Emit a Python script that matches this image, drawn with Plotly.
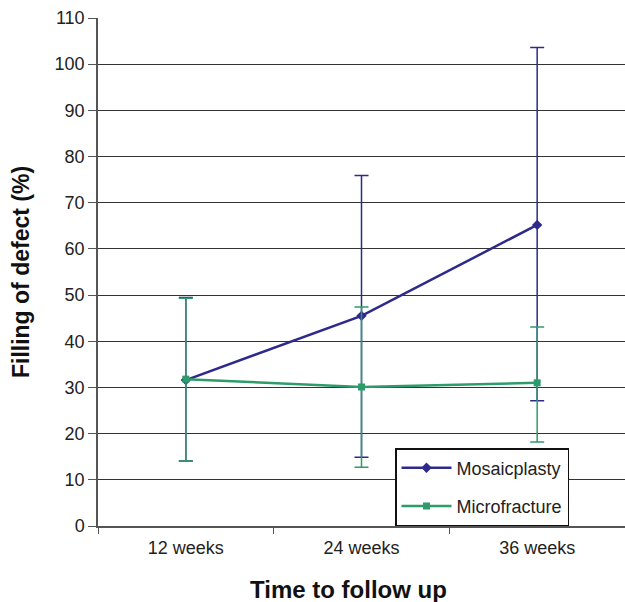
import plotly.graph_objects as go

categories = ["12 weeks", "24 weeks", "36 weeks"]
mosaic_mean = [31.6, 45.5, 65.2]
mosaic_upper = [49.5, 75.9, 103.6]
mosaic_lower = [14.1, 14.9, 27.1]
micro_mean = [31.8, 30.1, 31.0]
micro_upper = [49.3, 47.4, 43.1]
micro_lower = [14.1, 12.7, 18.2]

blue = "#2E2A8C"
green = "#2E9C6A"

fig = go.Figure()
fig.add_trace(go.Scatter(
    x=categories, y=mosaic_mean, name="Mosaicplasty", mode="lines+markers",
    line=dict(color=blue, width=2.5), marker=dict(symbol="diamond", size=8, color=blue),
    error_y=dict(type="data", symmetric=False,
                 array=[u - m for u, m in zip(mosaic_upper, mosaic_mean)],
                 arrayminus=[m - l for m, l in zip(mosaic_mean, mosaic_lower)],
                 color=blue, thickness=1.5, width=7),
    legendgroup="a"))
fig.add_trace(go.Scatter(
    x=categories, y=micro_mean, name="Microfracture", mode="lines+markers",
    line=dict(color=green, width=2.5), marker=dict(symbol="square", size=7, color=green),
    error_y=dict(type="data", symmetric=False,
                 array=[u - m for u, m in zip(micro_upper, micro_mean)],
                 arrayminus=[m - l for m, l in zip(micro_mean, micro_lower)],
                 color=green, thickness=1.5, width=7),
    legendgroup="b"))

fig.update_layout(
    width=625, height=602,
    margin=dict(l=98, r=0, t=18, b=76, autoexpand=False),
    paper_bgcolor="white", plot_bgcolor="white",
    font=dict(family="Liberation Sans, Arial, sans-serif", size=18, color="#222"),
    showlegend=True,
    legend=dict(x=0.5636, y=0.0, xanchor="left", yanchor="bottom",
                bgcolor="white", bordercolor="#111", borderwidth=1.5,
                font=dict(size=18), tracegroupgap=12, itemwidth=50),
    xaxis=dict(type="category", range=[-0.5, 2.5], showline=True, linecolor="#555",
               linewidth=1.5, ticks="outside", tickson="boundaries", ticklen=6,
               tickcolor="#555", showgrid=False, automargin=False, ticklabelstandoff=5),
    yaxis=dict(range=[0, 110], dtick=10, showline=True, linecolor="#555", linewidth=1.5,
               ticks="outside", ticklen=8, tickcolor="#555", automargin=True,
               showgrid=True, gridcolor="#333", gridwidth=1, zeroline=False,
               title=dict(text="<b>Filling of defect (%)</b>", font=dict(size=23, color="#111"), standoff=19)),
    annotations=[dict(text="<b>Time to follow up</b>", xref="paper", yref="paper",
                      x=(348 - 98) / 527, y=-(589 - 526) / 508, xanchor="center", yanchor="middle",
                      showarrow=False, font=dict(size=24, color="#111"))],
)

fig.write_html("out.html", config={"displayModeBar": False},
               post_script="document.body.style.margin='0px';document.body.style.overflow='hidden';")
